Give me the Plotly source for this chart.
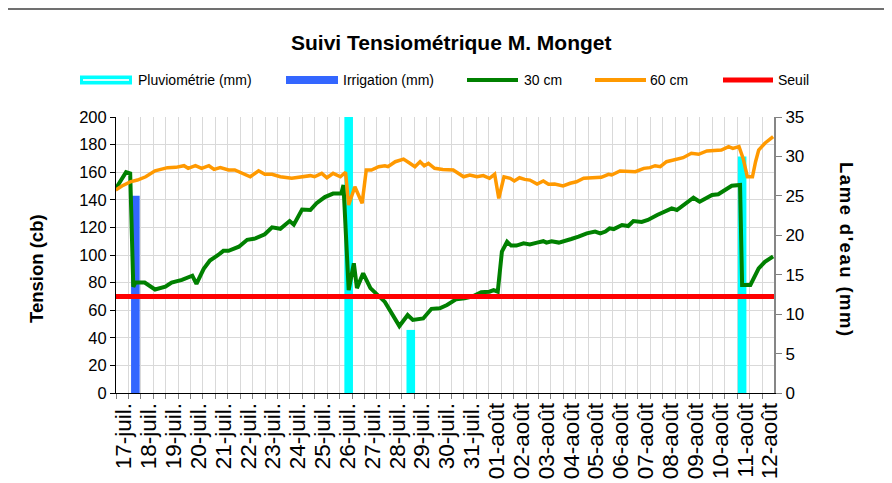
import pandas as pd
import plotly.graph_objects as go

# ---------------- data ----------------
start = pd.Timestamp("2011-07-17 00:00")

# hours since 17-juil 00:00 and tension (cb) at 30 cm
h30 = [-8, 2, 6, 9, 11, 20, 30, 40, 46, 56, 66, 70, 77, 83, 91, 96, 101, 111, 119, 127,
       136, 143, 151, 160, 164, 172, 180, 186, 194, 202, 210, 212, 217, 222, 225, 231, 238,
       242, 252, 266, 274, 279, 289, 297, 305, 312, 321, 329, 337, 345, 353, 357, 361, 365,
       370, 374, 379, 386, 392, 399, 405, 408, 413, 420, 426, 432, 439, 447, 455, 460, 465,
       469, 473, 481, 487, 492, 500, 506, 515, 523, 529, 534, 542, 550, 556, 561, 568, 574,
       580, 587, 595, 597, 605, 613, 619, 627]
v30 = [148, 160, 159, 77, 80, 80, 75, 77, 80, 82, 85, 79, 90, 96, 100, 103, 103, 106, 111, 112,
       115, 120, 119, 124.6, 122, 133, 132.6, 137.5, 142, 144.5, 144.7, 150.7, 74.6, 94, 76, 86.7, 76,
       73.4, 66, 48.5, 56.5, 53, 54, 61, 61.4, 63.8, 68, 68.6, 70, 73, 73.4, 74.6, 73.4, 102.4,
       109.6, 106.8, 106.8, 108.5, 107.7, 109, 110, 109, 110, 109, 110, 111.6, 113.3, 115.7, 117, 115.7, 117,
       119.3, 118.8, 121.7, 121, 124.6, 124, 125.4, 129, 132, 133.8, 132.6, 137.5, 141.5, 138.6, 140.6, 143.5, 144,
       147, 150.2, 150.7, 78.3, 78.3, 90.3, 95, 99]

# hours since 17-juil 00:00 and tension (cb) at 60 cm
h60 = [-8, -2, 6, 13, 21, 30, 42, 50, 58, 62, 69, 75, 82, 87, 93, 101, 107, 114, 122, 130,
       136, 143, 151, 162, 172, 180, 184, 191, 196, 202, 209, 214, 217, 223, 230, 234, 239,
       246, 252, 255, 262, 270, 275, 281, 286, 290, 294, 300, 308, 318, 328, 334, 341, 347,
       353, 358, 362, 367, 373, 377, 382, 387, 392, 399, 405, 410, 416, 424, 431, 437, 444,
       453, 461, 468, 471, 479, 487, 494, 502, 508, 513, 518, 524, 532, 540, 548, 555, 563,
       571, 577, 584, 588, 594, 598, 602, 607, 610, 613, 619, 627]
v60 = [147, 150, 153, 154.3, 156.7, 161, 163.3, 163.5, 164.7, 162.8, 164.7, 162.8, 164.7, 162, 163.3, 161.6, 161.6, 159.2, 156.7, 161,
       158.5, 158.5, 156.7, 155.6, 156.7, 157.5, 156.7, 159.2, 156, 159.2, 156.7, 160, 136.2, 149.5, 137.5, 161.6, 161.6,
       164, 164.7, 164, 167.6, 169.5, 167, 164, 167.6, 164.7, 166.4, 162.8, 162, 161.6, 156.7, 158, 156.7, 157.5,
       155.6, 158.5, 141, 156.7, 155.6, 153.6, 156, 154.8, 154.3, 151.4, 153.6, 151.2, 151.4, 150, 152, 153.1, 155.6,
       156.3, 156.3, 158.5, 158, 160.9, 160.9, 160.4, 162.8, 163.3, 164.7, 164, 167.6, 168.8, 170.5, 173.7, 173, 175.4,
       175.6, 176, 178.5, 177.3, 178.5, 170, 156.7, 156.7, 167.6, 176, 181, 185.8]

# rain and irrigation (mm), hours since 17-juil 00:00
h_pluie = [217, 277, 597]
pluie_mm = [40, 8, 30]
h_irrig = [11]
irrig_mm = [25]

# threshold
h_seuil = [-8, 628]
seuil_cb = [70, 70]

day_labels = ["17-juil.", "18-juil.", "19-juil.", "20-juil.", "21-juil.", "22-juil.", "23-juil.",
              "24-juil.", "25-juil.", "26-juil.", "27-juil.", "28-juil.", "29-juil.", "30-juil.",
              "31-juil.", "01-août", "02-août", "03-août", "04-août", "05-août", "06-août",
              "07-août", "08-août", "09-août", "10-août", "11-août", "12-août"]

# ---------------- helpers ----------------
def to_t(hours):
    return start + pd.to_timedelta(hours, unit="h")

W, H = 892, 483
OFF = 8  # page body margin offset
L, R, T, B = 116, 774, 117, 393  # plot area in page pixels


def px(x):
    return (x - L) / (R - L)


def py(y):
    return (B - y) / (B - T)


FONT = "Liberation Sans, Arial, sans-serif"
GREEN, ORANGE, RED, CYAN, BLUE = "#008000", "#FF9900", "#FF0000", "#00FFFF", "#3366FF"
bar_w = 8.3 * 3600 * 1000

fig = go.Figure()
fig.add_trace(go.Bar(x=to_t(h_pluie), y=pluie_mm, width=[bar_w] * len(h_pluie),
                     marker=dict(color=CYAN, line=dict(width=0)), name="Pluviométrie (mm)", yaxis="y"))
fig.add_trace(go.Bar(x=to_t(h_irrig), y=irrig_mm, width=[bar_w] * len(h_irrig),
                     marker=dict(color=BLUE, line=dict(width=0)), name="Irrigation (mm)", yaxis="y"))
fig.add_trace(go.Scatter(x=to_t(h30), y=v30, mode="lines", line=dict(color=GREEN, width=4),
                         name="30 cm", yaxis="y2"))
fig.add_trace(go.Scatter(x=to_t(h60), y=v60, mode="lines", line=dict(color=ORANGE, width=3.5),
                         name="60 cm", yaxis="y2"))
fig.add_trace(go.Scatter(x=to_t(h_seuil), y=seuil_cb, mode="lines", line=dict(color=RED, width=5),
                         name="Seuil", yaxis="y2"))

x_range = [to_t(-7.7), to_t(627.8)]
tickvals = [start + pd.Timedelta(days=k) for k in range(len(day_labels))]

fig.update_layout(
    width=W, height=H,
    margin=dict(l=L - OFF, r=W - (R - OFF), t=T - OFF, b=H - (B - OFF), pad=0, autoexpand=False),
    paper_bgcolor="white", plot_bgcolor="white",
    showlegend=False, barmode="overlay",
    font=dict(family=FONT, color="black"),
    xaxis=dict(
        type="date", range=x_range, automargin=False,
        tickmode="array", tickvals=tickvals, ticktext=day_labels,
        tickangle=-90, tickfont=dict(size=22.5, family=FONT, color="black"),
        ticks="", showgrid=False, showline=True, linecolor="black", linewidth=1,
        zeroline=False,
        minor=dict(tick0=to_t(-7.7), dtick=12 * 3600 * 1000, ticks="outside", ticklen=5,
                   tickcolor="#808080", showgrid=True, gridcolor="#D9D9D9", gridwidth=1),
    ),
    yaxis=dict(
        side="right", range=[0, 35], dtick=5, tickmode="linear", tick0=0, automargin=False,
        ticks="outside", ticklen=6, tickcolor="#808080", showgrid=False,
        showline=True, linecolor="#868686", linewidth=2, zeroline=False,
        tickfont=dict(size=17, family=FONT, color="black"),
    ),
    yaxis2=dict(
        overlaying="y", side="left", range=[0, 200], dtick=20, tickmode="linear", tick0=0,
        automargin=False,
        ticks="outside", ticklen=5, tickcolor="black", showgrid=True, gridcolor="#D9D9D9",
        showline=True, linecolor="black", linewidth=1, zeroline=False,
        tickfont=dict(size=16.5, family=FONT, color="black"),
    ),
)

# title & axis titles
HS = "\u200a"
ann = [
    dict(text="<b>Suivi Tensiométrique M. Monget</b>", x=px(451), y=py(43), xanchor="center",
         yanchor="middle", font=dict(size=21, family=FONT, color="black")),
    dict(text="<b>Tension (cb)</b>", x=px(36), y=py(269), xanchor="center", yanchor="middle",
         textangle=-90, font=dict(size=18.5, family=FONT, color="black")),
    dict(text="<b>" + HS.join("Lame") + "\u2009 " + HS.join("d'eau") + "\u2009 " + HS.join("(mm)") + "</b>",
         x=px(847), y=py(249), xanchor="center", yanchor="middle",
         textangle=90, font=dict(size=18.5, family=FONT, color="black")),
]

# custom legend + chart border (top and left edges only)
leg_y = 80
border = dict(color="#404040", width=1.5)
shapes = [
    dict(type="line", xref="paper", yref="paper", x0=px(7), y0=py(9), x1=px(1100), y1=py(9),
         line=border, layer="above"),
    dict(type="line", xref="paper", yref="paper", x0=px(7), y0=py(9), x1=px(7), y1=py(700),
         line=border, layer="above"),
    dict(type="rect", xref="paper", yref="paper", x0=px(80), x1=px(132), y0=py(leg_y + 4.5),
         y1=py(leg_y - 4.5), fillcolor=CYAN, line=dict(width=0)),
    dict(type="line", xref="paper", yref="paper", x0=px(83), x1=px(129), y0=py(leg_y), y1=py(leg_y),
         line=dict(color="#D8FFFF", width=2)),
    dict(type="rect", xref="paper", yref="paper", x0=px(286), x1=px(338), y0=py(leg_y + 4),
         y1=py(leg_y - 4), fillcolor=BLUE, line=dict(width=0)),
    dict(type="line", xref="paper", yref="paper", x0=px(467), x1=px(518), y0=py(leg_y), y1=py(leg_y),
         line=dict(color=GREEN, width=4)),
    dict(type="line", xref="paper", yref="paper", x0=px(595), x1=px(646), y0=py(leg_y), y1=py(leg_y),
         line=dict(color=ORANGE, width=4)),
    dict(type="line", xref="paper", yref="paper", x0=px(723), x1=px(773), y0=py(leg_y), y1=py(leg_y),
         line=dict(color=RED, width=5)),
]
for txt, xl in [("Pluviométrie (mm)", 136), ("Irrigation (mm)", 341), ("30 cm", 522),
                ("60 cm", 648), ("Seuil", 776)]:
    ann.append(dict(text=txt, x=px(xl), y=py(leg_y), xanchor="left", yanchor="middle",
                    font=dict(size=14, family=FONT, color="black")))

for a in ann:
    a.update(xref="paper", yref="paper", showarrow=False)
fig.update_layout(annotations=ann, shapes=shapes)

fig.write_html("out.html")
